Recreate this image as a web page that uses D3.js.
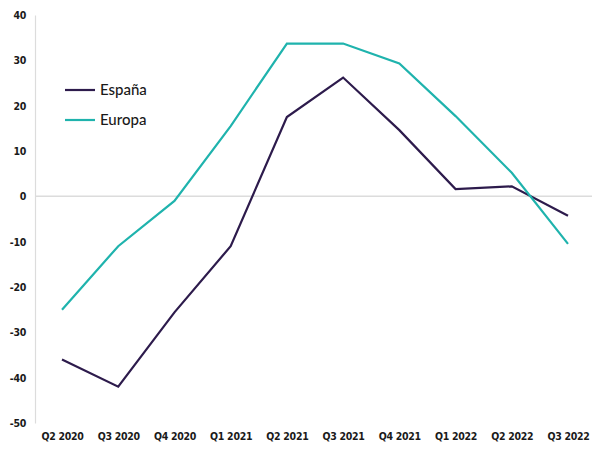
<!DOCTYPE html>
<html>
<head>
<meta charset="utf-8">
<script src="https://cdn.jsdelivr.net/npm/d3@7"></script>
<style>
  html, body { margin: 0; padding: 0; background: #fff; }
  svg { display: block; }
  .tick text { font-family: "DejaVu Sans Condensed", "Liberation Sans Narrow", sans-serif; font-stretch: condensed; font-weight: bold; font-size: 10.5px; fill: #1a1a1a; letter-spacing: -0.3px; }
  .legend text { font-family: "Lato", "Open Sans", sans-serif; font-size: 15px; font-weight: 500; fill: #1a1a1a; }
</style>
</head>
<body>
<svg id="chart" width="592" height="450"></svg>
<script>
// Quarterly series, percentage change
const quarters = ["Q2 2020", "Q3 2020", "Q4 2020", "Q1 2021", "Q2 2021",
                  "Q3 2021", "Q4 2021", "Q1 2022", "Q2 2022", "Q3 2022"];
const espana = [-36, -42, -25.6, -11, 17.5, 26.2, 14.6, 1.6, 2.2, -4.3];
const europa = [-25, -11, -1, 15.5, 33.7, 33.7, 29.3, 17.7, 5.2, -10.5];
const yTicks = [40, 30, 20, 10, 0, -10, -20, -30, -40, -50];

const series = [
  { name: "España", values: espana, color: "#2d1b4c" },
  { name: "Europa", values: europa, color: "#1fb3ad" }
];

const svg = d3.select("#chart");
const plotLeft = 35, plotTop = 15, plotBottom = 423, plotRight = 592;

const x = d3.scalePoint().domain(quarters).range([62, 568]);
const y = d3.scaleLinear().domain([-50, 40]).range([plotBottom, plotTop]);

// Y axis: labels only, with a light vertical rule; plain hyphen for negatives
const yAxis = d3.axisLeft(y).tickValues(yTicks).tickSize(0).tickPadding(9).tickFormat(d => String(d));
const yg = svg.append("g").attr("transform", `translate(${plotLeft},0)`).call(yAxis);
yg.select(".domain").attr("stroke", "#dcdcdc").attr("stroke-width", 1.2);

// X axis labels along the bottom
const xAxis = d3.axisBottom(x).tickSize(0).tickPadding(0);
const xg = svg.append("g").attr("transform", `translate(0,${plotBottom + 10})`).call(xAxis);
xg.select(".domain").remove();

// Zero baseline
svg.append("line")
  .attr("x1", plotLeft).attr("x2", plotRight)
  .attr("y1", y(0)).attr("y2", y(0))
  .attr("stroke", "#dcdcdc").attr("stroke-width", 1.5);

const line = d3.line()
  .x((d, i) => x(quarters[i]))
  .y(d => y(d));

series.forEach(s => {
  svg.append("path")
    .datum(s.values)
    .attr("fill", "none")
    .attr("stroke", s.color)
    .attr("stroke-width", 2.2)
    .attr("stroke-linejoin", "miter")
    .attr("d", line);
});

// Legend
const legend = svg.append("g").attr("class", "legend");
series.forEach((s, i) => {
  const ly = 90 + i * 30;
  legend.append("line")
    .attr("x1", 65).attr("x2", 95)
    .attr("y1", ly).attr("y2", ly)
    .attr("stroke", s.color).attr("stroke-width", 2.2);
  legend.append("text")
    .attr("x", 100).attr("y", ly)
    .attr("dy", "0.35em")
    .text(s.name);
});
</script>
</body>
</html>
